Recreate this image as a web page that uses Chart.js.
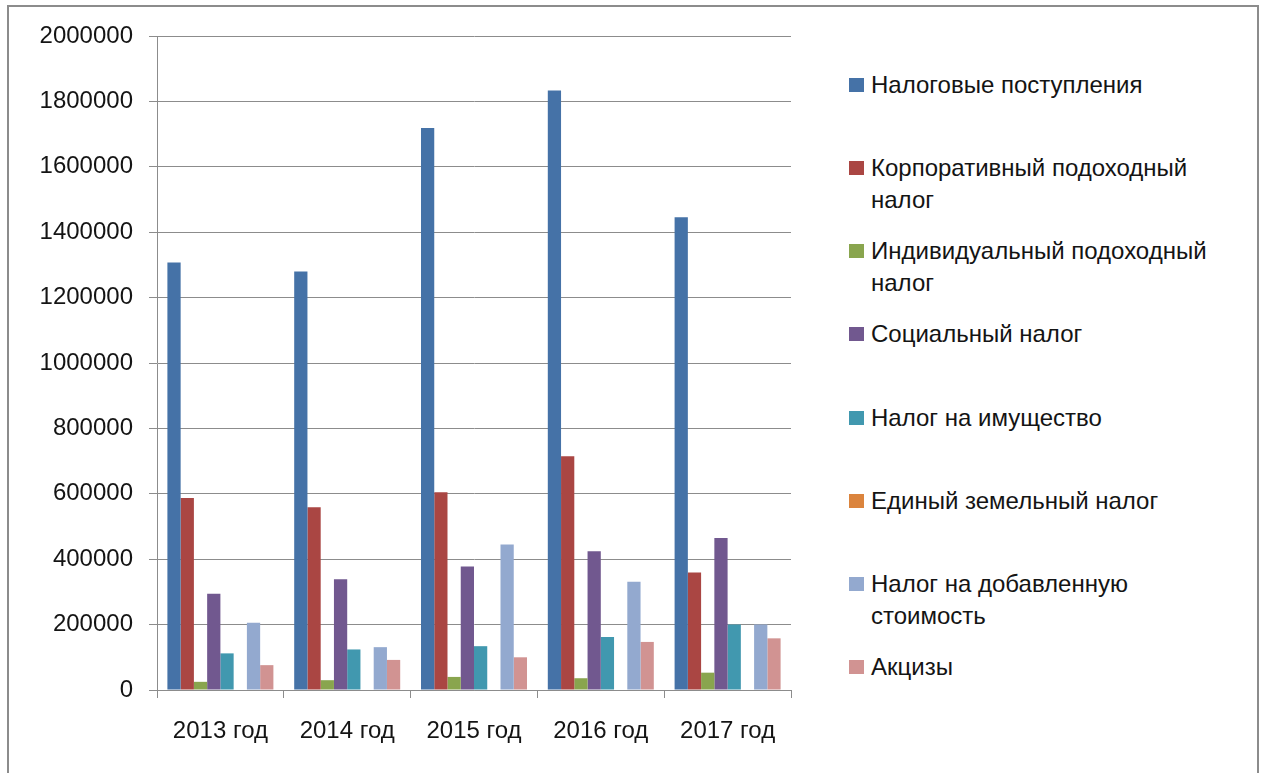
<!DOCTYPE html>
<html>
<head>
<meta charset="utf-8">
<script src="https://cdn.jsdelivr.net/npm/chart.js@4.4.1/dist/chart.umd.min.js"></script>
<style>
  html, body { margin:0; padding:0; background:#fff; }
  body { width:1261px; height:773px; position:relative; overflow:hidden; font-family:"Liberation Sans", Arial, sans-serif; }
  #frame { position:absolute; left:7px; top:5px; width:1248px; height:800px; border:2px solid #8c8c8c; box-sizing:content-box; }
  #c { position:absolute; left:0; top:0; }
  #legend { position:absolute; left:0; top:0; }
  .item { position:absolute; left:849px; }
  .sw { position:absolute; left:0; top:9px; width:15px; height:14px; }
  .tx { position:absolute; left:22px; top:0; font-size:24px; line-height:32px; color:#141414; white-space:nowrap; }
</style>
</head>
<body>
<div id="frame"></div>
<canvas id="c" width="800" height="773"></canvas>
<div id="legend"></div>
<script>
const categories = ["2013 год", "2014 год", "2015 год", "2016 год", "2017 год"];

const taxRevenue    = [1307000, 1280000, 1719000, 1833000, 1446000];
const corporateTax  = [587000, 559000, 605000, 715000, 359000];
const individualTax = [25000, 30000, 40000, 36000, 53000];
const socialTax     = [294000, 339000, 378000, 424000, 465000];
const propertyTax   = [112000, 124000, 134000, 162000, 200000];
const landTax       = [0, 0, 0, 0, 0];
const vat           = [206000, 131000, 445000, 331000, 200000];
const excise        = [76000, 92000, 100000, 147000, 158000];

const seriesNames = [
  ["Налоговые поступления"],
  ["Корпоративный подоходный", "налог"],
  ["Индивидуальный подоходный", "налог"],
  ["Социальный налог"],
  ["Налог на имущество"],
  ["Единый земельный налог"],
  ["Налог на добавленную", "стоимость"],
  ["Акцизы"]
];
const seriesData = [taxRevenue, corporateTax, individualTax, socialTax, propertyTax, landTax, vat, excise];
const seriesColors = ["#4572A7", "#AA4643", "#89A54E", "#71588F", "#4198AF", "#DB843D", "#93A9CF", "#D19392"];

const yMin = 0, yMax = 2000000, yStep = 200000;

const font = { family: "'Liberation Sans', Arial, sans-serif", size: 24 };

const chart = new Chart(document.getElementById('c'), {
  type: 'bar',
  data: {
    labels: categories,
    datasets: seriesData.map((d, i) => ({
      label: seriesNames[i].join(' '),
      data: d,
      backgroundColor: seriesColors[i],
      borderWidth: 0,
      categoryPercentage: 0.836,
      barPercentage: 1.0
    }))
  },
  options: {
    responsive: false,
    devicePixelRatio: 1,
    animation: false,
    layout: { padding: { left: 0, top: 36, right: 9, bottom: 0 } },
    plugins: { legend: { display: false }, tooltip: { enabled: false } },
    scales: {
      x: {
        grid: { display: true, drawOnChartArea: false, drawTicks: true, tickLength: 8, color: '#8c8c8c', offset: true },
        border: { display: true, color: '#8c8c8c', width: 1 },
        ticks: { font: font, color: '#141414', padding: 19, maxRotation: 0 },
        afterFit: s => { s.height = 83; }
      },
      y: {
        min: yMin, max: yMax,
        grid: { color: '#8c8c8c', lineWidth: 1, tickLength: 8 },
        border: { display: true, color: '#8c8c8c', width: 1 },
        ticks: { stepSize: yStep, font: font, color: '#141414', padding: 16, callback: v => String(v) },
        afterFit: s => { s.width = 157; }
      }
    }
  }
});

const leg = document.getElementById('legend');
const firstTop = 69, spacing = 83.15;
seriesNames.forEach((lines, i) => {
  const it = document.createElement('div');
  it.className = 'item';
  it.style.top = (firstTop + i * spacing) + 'px';
  const sw = document.createElement('div');
  sw.className = 'sw';
  sw.style.background = seriesColors[i];
  const tx = document.createElement('div');
  tx.className = 'tx';
  tx.innerHTML = lines.join('<br>');
  it.appendChild(sw); it.appendChild(tx);
  leg.appendChild(it);
});
</script>
</body>
</html>
